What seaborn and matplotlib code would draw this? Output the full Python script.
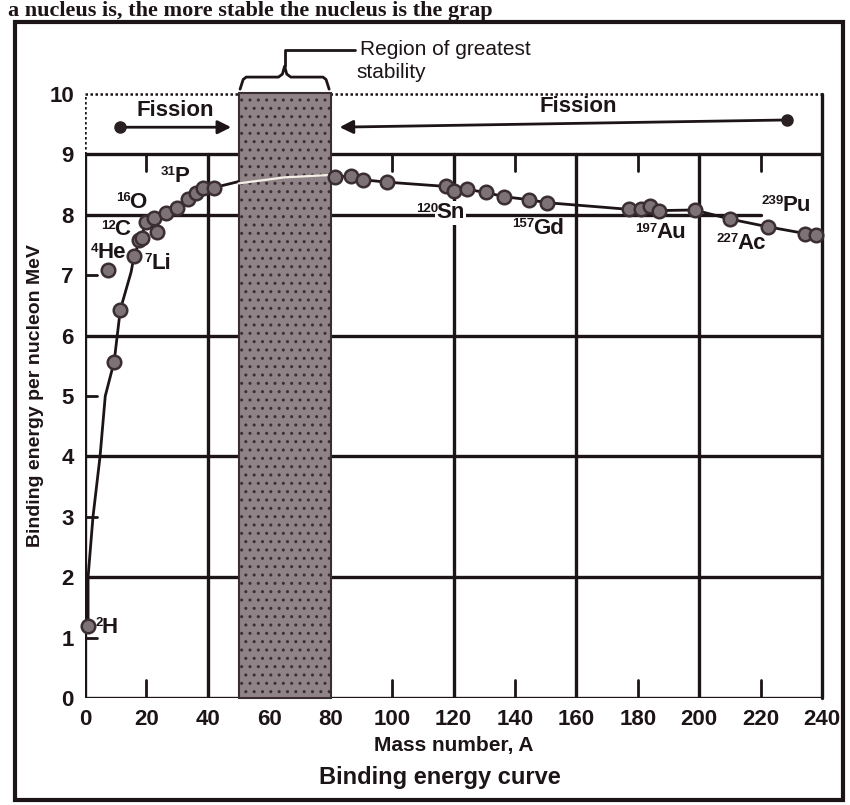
import matplotlib
matplotlib.use('Agg')
import matplotlib.pyplot as plt
from matplotlib.patches import Rectangle
import seaborn as sns

# nuclide markers (mass number A, binding energy per nucleon in MeV)
pt_A = [1, 9.5, 11.5, 16, 17.5, 18.5, 20, 22.5, 23.5, 26.5, 30, 33.5, 36, 38.5, 42,
        81.5, 86.5, 90.5, 98.5, 117.5, 120, 124.5, 130.5, 136.5, 144.5, 150.5,
        177, 181, 184, 187, 198.5, 210, 222.5, 234.5, 238]
pt_BE = [1.2, 5.57, 6.43, 7.32, 7.58, 7.62, 7.88, 7.95, 7.72, 8.03, 8.12, 8.26, 8.36, 8.45, 8.45,
         8.63, 8.64, 8.58, 8.54, 8.47, 8.40, 8.42, 8.37, 8.30, 8.25, 8.20,
         8.09, 8.09, 8.15, 8.07, 8.08, 7.93, 7.80, 7.69, 7.66]

# helium sits off the curve
he_A = [7.5]
he_BE = [7.08]

# drawn curve, light side / through the band / heavy side
left_A = [1, 1, 2.6, 4.9, 6.6, 9.5, 11.5, 15, 16, 18, 20, 22.5, 26.5, 30, 33.5, 36, 38.5, 42, 50]
left_BE = [1.2, 2.0, 3.0, 4.0, 5.0, 5.57, 6.43, 7.05, 7.32, 7.6, 7.88, 7.95, 8.03, 8.12, 8.26, 8.36, 8.45, 8.45, 8.55]
band_A = [50, 65, 80]
band_BE = [8.52, 8.62, 8.66]
right_A = [80, 81.5, 86.5, 90.5, 98.5, 117.5, 120, 124.5, 130.5, 136.5, 144.5, 150.5,
           170, 177, 181, 187, 198.5, 210, 222.5, 234.5, 240]
right_BE = [8.66, 8.63, 8.64, 8.58, 8.54, 8.47, 8.42, 8.42, 8.37, 8.30, 8.25, 8.20,
            8.12, 8.09, 8.09, 8.07, 8.08, 7.93, 7.80, 7.69, 7.65]

# nuclide labels: element symbol, mass number, where the symbol starts
lab_el = ['H', 'He', 'Li', 'C', 'O', 'P', 'Sn', 'Gd', 'Au', 'Ac', 'Pu']
lab_mass = ['2', '4', '7', '12', '16', '31', '120', '157', '197', '227', '239']
lab_A = [5.5, 4, 21.5, 9.5, 14.5, 29, 114.5, 146, 186, 212.5, 227]
lab_BE = [1.17, 7.37, 7.2, 7.75, 8.2, 8.64, 8.03, 7.78, 7.7, 7.53, 8.15]

x_ticks = [0, 20, 40, 60, 80, 100, 120, 140, 160, 180, 200, 220, 240]
y_ticks = [0, 1, 2, 3, 4, 5, 6, 7, 8, 9, 10]
hgrid_y = [0, 2, 4, 6, 9]
vgrid_x = [0, 40, 120, 160, 200]
minor_x = [20, 100, 140, 180, 220]
minor_y = [1, 3, 5, 7]
stable_band = [50, 80]

sns.set_style('white')
plt.rcParams['font.family'] = ['Liberation Sans', 'DejaVu Sans']
plt.rcParams['font.weight'] = 'bold'
plt.rcParams['axes.labelweight'] = 'bold'

ink = '#1c1416'
fig = plt.figure(figsize=(8.5, 8.05), dpi=100)
ax = fig.add_axes([85 / 850, 107 / 805, 737 / 850, 604 / 805])
ax.set_xlim(0, 240)
ax.set_ylim(0, 10)
for s in ax.spines.values():
    s.set_visible(False)

# grid frame
lw = 2.4
for y in hgrid_y:
    ax.plot([0, 240], [y, y], color=ink, lw=lw, zorder=1, solid_capstyle='butt')
ax.plot([0, 220], [8, 8], color=ink, lw=lw, zorder=1)
for x in vgrid_x:
    ax.plot([x, x], [0, 9], color=ink, lw=lw, zorder=1)
ax.plot([240, 240], [0, 10], color=ink, lw=lw, zorder=1, clip_on=False)
ax.plot([0, 240], [10, 10], color=ink, lw=1.8, ls=(0, (1, 1)), zorder=1, clip_on=False)
ax.plot([0, 0], [9, 10], color=ink, lw=1.8, ls=(0, (1, 1)), zorder=1)
for x in minor_x:
    ax.plot([x, x], [0, 0.3], color=ink, lw=2, zorder=1)
    ax.plot([x, x], [9, 8.72], color=ink, lw=2, zorder=1)
for y in minor_y:
    ax.plot([0, 4], [y, y], color=ink, lw=2, zorder=1)

# region of greatest stability
ax.add_patch(Rectangle((stable_band[0], 0), stable_band[1] - stable_band[0], 10.02,
                       facecolor='#8f8388', edgecolor='#3a2e32', hatch='..', lw=1.5,
                       zorder=2, clip_on=False))

# curve and points
sns.lineplot(x=left_A, y=left_BE, sort=False, estimator=None, color=ink, lw=2, ax=ax, zorder=3)
sns.lineplot(x=band_A, y=band_BE, sort=False, estimator=None, color='#f4efe6', lw=1.6, ax=ax, zorder=3)
sns.lineplot(x=right_A, y=right_BE, sort=False, estimator=None, color=ink, lw=2, ax=ax, zorder=3)
sns.scatterplot(x=pt_A, y=pt_BE, s=95, color='#7d7275', edgecolor='#3a2e32', linewidth=1.8,
                ax=ax, zorder=4, clip_on=False)
sns.scatterplot(x=he_A, y=he_BE, s=95, color='#7d7275', edgecolor='#3a2e32', linewidth=1.8,
                ax=ax, zorder=4)

for el, m, a, b in zip(lab_el, lab_mass, lab_A, lab_BE):
    bg = dict(facecolor='white', edgecolor='none', pad=1) if el in ('Sn', 'Pu') else None
    ax.text(a, b, el, fontsize=16, color=ink, ha='left', va='center', zorder=5, bbox=bg)
    ax.text(a + 0.4, b + 0.17, m, fontsize=9.5, color=ink, ha='right', va='top', zorder=6)

# fission arrows
ax.annotate('', xy=(48.5, 9.45), xytext=(11.5, 9.45),
            arrowprops=dict(arrowstyle='-|>', color=ink, lw=2, mutation_scale=20))
ax.annotate('', xy=(82, 9.45), xytext=(228.5, 9.57),
            arrowprops=dict(arrowstyle='-|>', color=ink, lw=2, mutation_scale=20))
ax.plot([11.5, 228.5], [9.45, 9.57], 'o', ms=8, color='#2a2022', zorder=5)
ax.text(29.5, 9.72, 'Fission', fontsize=16, ha='center', va='center', color=ink)
ax.text(160.5, 9.8, 'Fission', fontsize=16, ha='center', va='center', color=ink)

# brace over the band
ax.plot([50.5, 51.5, 52.5, 63, 64.3, 65, 65.7, 67, 77.5, 78.5, 79.5],
        [10.08, 10.24, 10.28, 10.28, 10.33, 10.46, 10.33, 10.28, 10.28, 10.24, 10.08],
        color=ink, lw=2, clip_on=False)
ax.plot([65, 65, 88], [10.46, 10.73, 10.73], color=ink, lw=2, clip_on=False)
ax.text(89.5, 10.73, 'Region of greatest', fontsize=15, ha='left', va='center', color=ink,
        fontweight='normal')
ax.text(88.5, 10.35, 'stability', fontsize=15, ha='left', va='center', color=ink,
        fontweight='normal')

ax.set_xticks(x_ticks)
ax.set_yticks(y_ticks)
ax.tick_params(length=0, labelsize=16, pad=8, colors=ink)
ax.set_xlabel('Mass number, A', fontsize=15, color=ink, labelpad=4)
ax.set_ylabel('Binding energy per nucleon MeV', fontsize=14, color=ink, labelpad=4)

fig.text(440 / 850, 1 - 777 / 805, 'Binding energy curve', fontsize=17, ha='center',
         va='center', color=ink)
fig.text(8 / 850, 1 - 16 / 805, 'a nucleus is, the more stable the nucleus is the grap',
         fontsize=16, ha='left', va='baseline', color=ink,
         family=['Liberation Serif', 'DejaVu Serif'], fontweight='bold')
fig.add_artist(Rectangle((15 / 850, 5 / 805), 828 / 850, 778 / 805, transform=fig.transFigure,
                         fill=False, edgecolor=ink, lw=3))

fig.savefig('out.png', dpi=100)
